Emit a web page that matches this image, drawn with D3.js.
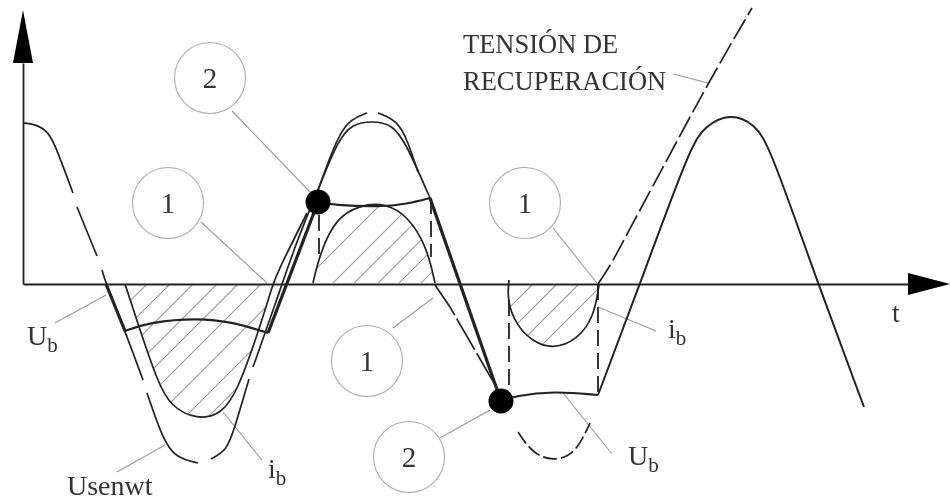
<!DOCTYPE html>
<html>
<head>
<meta charset="utf-8">
<script src="https://cdn.jsdelivr.net/npm/d3@7"></script>
<style>
  html, body { margin: 0; padding: 0; background: #fff; }
  svg { display: block; filter: blur(0.5px); }
  text { font-family: "Liberation Serif", serif; fill: #333; }
</style>
</head>
<body>
<div id="chart"></div>
<script>
// all values are [t, v], origin where the two axes cross
const sineDescent1 = [[0,161],[12,160],[26,152],[34,134],[50,91]];
const sineDescent2 = [[54,77],[74,28]];
const sineDescent3 = [[79,14],[83,0],[102,-47],[120,-96]];
const sineTroughL = [[124,-109],[140,-156],[153,-174],[175,-179]];
const sineTroughR = [[188,-175],[204,-166],[211,-146],[226,-95]];
const sineRise = [[230,-83],[252,-21],[274,44],[295,94]];
const humpDashedL = [[295,94],[315,149],[328,165],[344,171]];
const humpDashedR = [[355,171],[375,163],[385,142],[395,112]];
const humpSolid = [[295,94],[315,144],[329,160],[349,163],[369,160],[383,141],[407,86]];
const sineFall = [[412,-1],[427,-23],[475,-106]];
const sineLow = [[495,-148],[510,-170],[530,-177],[552,-171],[567,-139]];
const recovery = [[575,0],[589,21],[604,50],[637,111],[685,201],[729,276]];
const lastWave = [[575,-111],[617,0],[667,137],[682,158],[707,171],[732,160],[747,137],[795,0],[841,-123]];

const thickLines = [
  [[83,0],[102,-47]],
  [[245,-49],[295,82]],
  [[407,86],[478,-117]],
];
const archUb1 = [[102,-47],[127,-38],[174,-34],[210,-38],[245,-49]];
const archUb2 = [[295,82],[310,79],[357,77],[384,80],[407,86]];
const archUb3 = [[478,-117],[492,-112],[530,-107],[575,-111]];

const ib1 = [[102,0],[117,-46],[134,-96],[147,-122],[174,-136],[199,-130],[215,-106],[237,-43],[250,0],[254,11],[284,71]];
const ib2 = [[290,1],[297,31],[313,66],[337,79],[362,81],[385,68],[404,37],[412,1]];
const ib3 = [[486,4],[484,-16],[493,-41],[510,-58],[530,-65],[554,-56],[571,-33],[576,-1]];

const hatch1 = [124,147,170,194,215,238,266,295,318];
const hatch2 = [278,309,330,354,375,397];
const hatch3 = [510,534,556,580];

const dropLines = [
  [[296,69],[296,27]],
  [[408,86],[408,27]],
  [[486,-16],[486,-111]],
  [[575,0],[575,-111]],
];
const dots = [[295,82],[478,-117]];

const leaders = [
  [[209,173],[287,92]],
  [[178,62],[244,1]],
  [[370,-44],[410,-14]],
  [[530,56],[574,1]],
  [[417,-154],[467,-126]],
  [[94,-188],[142,-161]],
  [[32,-39],[83,-11]],
  [[200,-128],[239,-176]],
  [[575,-23],[633,-47]],
  [[540,-109],[589,-170]],
  [[650,210],[685,201]],
];
const calloutCentres = [[187,206],[145,81],[344,-77],[386,-173],[502,81]];
const calloutNames = ['2','1','1','2','1'];

// main text, subscript, position
const labelText = ['Usenwt', 'U', 'i', 'i', 'U', 't', 'TENSIÓN DE', 'RECUPERACIÓN'];
const labelSub = ['', 'b', 'b', 'b', 'b', '', '', ''];
const labelPos = [[44,-211],[4,-61],[245,-194],[645,-54],[605,-181],[869,-38],[440,231],[440,194]];

const axisArrowX = [[885,11],[927,0],[885,-11]];
const axisArrowY = [[-10,221],[0,274],[10,221]];

const width = 950;
const height = 502;
const ink = '#222';

const x = d3.scaleLinear().domain([0, 885]).range([23, 908]);
const y = d3.scaleLinear().domain([0, 221]).range([284, 63]);

const svg = d3
  .select('#chart')
  .append('svg')
  .attr('width', width)
  .attr('height', height);

const smooth = d3.line().x((d) => x(d[0])).y((d) => y(d[1])).curve(d3.curveBasis);
const straight = d3.line().x((d) => x(d[0])).y((d) => y(d[1]));

// hatching, clipped to the area under each current curve
const hatchSets = [
  { id: 'clip1', shape: ib1.filter((d) => d[1] <= 0), lines: hatch1, dir: -1 },
  { id: 'clip2', shape: ib2, lines: hatch2, dir: 1 },
  { id: 'clip3', shape: ib3, lines: hatch3, dir: -1 },
];
hatchSets.forEach((h) => {
  svg.append('clipPath').attr('id', h.id).append('path').attr('d', smooth(h.shape) + 'Z');
  svg
    .append('g')
    .attr('clip-path', `url(#${h.id})`)
    .selectAll('line')
    .data(h.lines)
    .enter()
    .append('line')
    .attr('x1', (d) => x(d))
    .attr('y1', y(0))
    .attr('x2', (d) => x(d + h.dir * 220))
    .attr('y2', y(h.dir * 220))
    .attr('stroke', '#999')
    .attr('stroke-width', 1.1);
});

// leader lines and callout circles
svg
  .append('g')
  .selectAll('path')
  .data(leaders)
  .enter()
  .append('path')
  .attr('d', straight)
  .attr('fill', 'none')
  .attr('stroke', '#999')
  .attr('stroke-width', 1.1);

const callouts = svg
  .append('g')
  .selectAll('g')
  .data(calloutCentres)
  .enter()
  .append('g')
  .attr('transform', (d) => `translate(${x(d[0])},${y(d[1])})`);

callouts
  .append('circle')
  .attr('r', 35.5)
  .attr('fill', 'none')
  .attr('stroke', '#aaa')
  .attr('stroke-width', 1.1);

callouts
  .append('text')
  .attr('text-anchor', 'middle')
  .attr('dy', 10)
  .attr('font-size', 29)
  .text((d, i) => calloutNames[i]);

// axes, ticks removed so only the domain line is left
svg
  .append('g')
  .attr('transform', `translate(0,${y(0)})`)
  .call(d3.axisBottom(x).tickValues([]).tickSizeOuter(0))
  .select('.domain')
  .attr('stroke', ink)
  .attr('stroke-width', 1.8);

svg
  .append('g')
  .attr('transform', `translate(${x(0)},0)`)
  .call(d3.axisLeft(y).tickValues([]).tickSizeOuter(0))
  .select('.domain')
  .attr('stroke', ink)
  .attr('stroke-width', 1.8);

svg
  .selectAll('.arrow')
  .data([axisArrowX, axisArrowY])
  .enter()
  .append('path')
  .attr('class', 'arrow')
  .attr('d', (d) => straight(d) + 'Z')
  .attr('fill', '#000');

const drawLines = (data, smoothed, strokeWidth, dash) =>
  svg
    .append('g')
    .selectAll('path')
    .data(data)
    .enter()
    .append('path')
    .attr('d', smoothed ? smooth : straight)
    .attr('fill', 'none')
    .attr('stroke', ink)
    .attr('stroke-width', strokeWidth)
    .attr('stroke-dasharray', dash);

drawLines([sineDescent1, sineDescent2, sineDescent3, sineTroughL, sineTroughR, sineRise], true, 1.7, null);
drawLines([humpDashedL, humpDashedR, humpSolid], true, 1.7, null);
drawLines([sineFall], false, 1.7, '36,4');
drawLines([sineLow], true, 1.7, '14,4');
drawLines([recovery], true, 1.7, '23,5');
drawLines([lastWave], true, 2, null);
drawLines([ib1, ib2, ib3], true, 1.7, null);
drawLines([archUb1, archUb2, archUb3], true, 2.2, null);
drawLines(thickLines, false, 3.2, null);
drawLines(dropLines, false, 1.8, '16,7');

svg
  .append('g')
  .selectAll('circle')
  .data(dots)
  .enter()
  .append('circle')
  .attr('cx', (d) => x(d[0]))
  .attr('cy', (d) => y(d[1]))
  .attr('r', 12.5)
  .attr('fill', '#000');

// text labels
const labels = svg
  .append('g')
  .selectAll('text')
  .data(labelText)
  .enter()
  .append('text')
  .attr('x', (d, i) => x(labelPos[i][0]))
  .attr('y', (d, i) => y(labelPos[i][1]))
  .attr('font-size', (d, i) => (i >= 6 ? 26.5 : 28));

labels.append('tspan').text((d) => d);
labels
  .append('tspan')
  .attr('dy', 7)
  .attr('font-size', 21)
  .text((d, i) => labelSub[i]);
</script>
</body>
</html>
